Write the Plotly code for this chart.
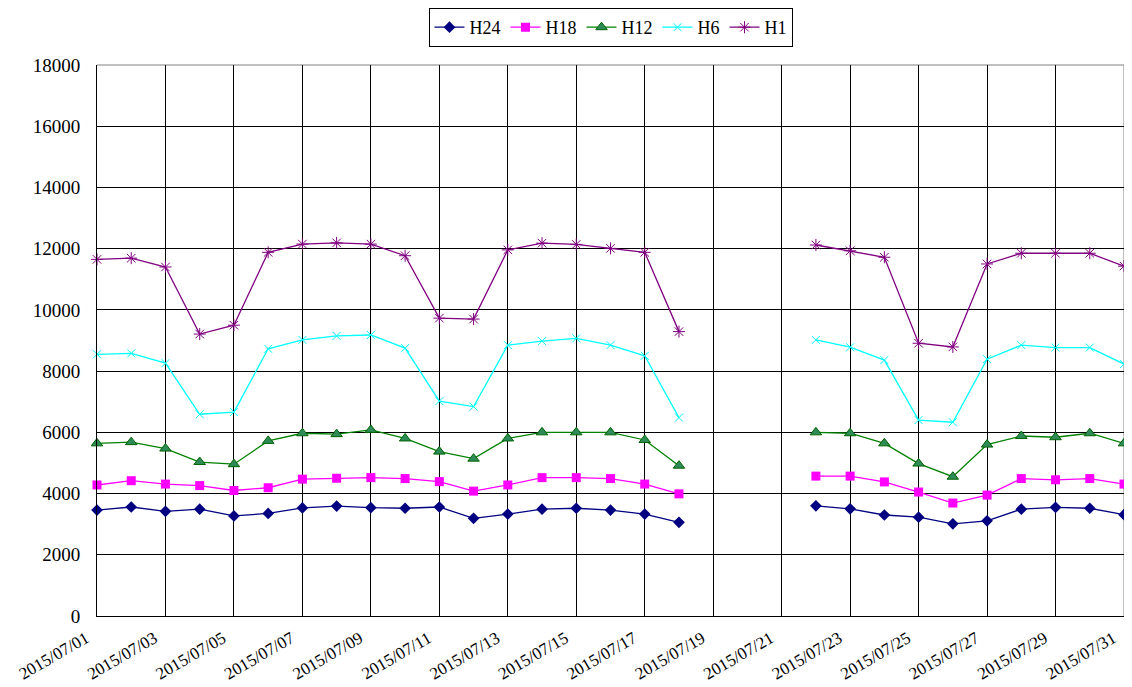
import plotly.graph_objects as go

dates = ["2015-07-%02d" % d for d in range(1, 32)]

h24 = [3460, 3560, 3420, 3490, 3270, 3350, 3530, 3590, 3540, 3520,
       3560, 3190, 3330, 3490, 3520, 3460, 3330, 3060, None, None, None,
       3600, 3500, 3300, 3230, 3010, 3110, 3490, 3550, 3520, 3310]
h18 = [4280, 4420, 4310, 4260, 4100, 4190, 4470, 4500, 4520, 4490,
       4390, 4080, 4280, 4520, 4520, 4490, 4310, 3990, None, None, None,
       4570, 4570, 4380, 4050, 3690, 3950, 4490, 4450, 4490, 4310]
h12 = [5640, 5680, 5470, 5030, 4960, 5720, 5970, 5940, 6080, 5800,
       5370, 5140, 5800, 6000, 6000, 6000, 5750, 4910, None, None, None,
       6000, 5970, 5640, 4980, 4550, 5600, 5880, 5840, 5970, 5640]
h6 = [8550, 8580, 8260, 6590, 6660, 8730, 9020, 9150, 9180, 8750,
      7020, 6840, 8850, 8980, 9070, 8850, 8500, 6480, None, None, None,
      9020, 8780, 8360, 6400, 6330, 8390, 8850, 8770, 8770, 8230]
h1 = [11650, 11690, 11400, 9210, 9500, 11880, 12150, 12190, 12150, 11770,
      9730, 9700, 11960, 12180, 12140, 12010, 11880, 9290, None, None, None,
      12120, 11930, 11720, 8910, 8790, 11500, 11850, 11850, 11850, 11430]

series = [
    ("H24", h24, "#000080", dict(symbol="diamond", size=9, color="#000080")),
    ("H18", h18, "#FF00FF", dict(symbol="square", size=9, color="#FF00FF")),
    ("H12", h12, "#008000", dict(symbol="triangle-up", size=10, color="#2E8B57",
                                  line=dict(color="#006400", width=1))),
    ("H6", h6, "#00FFFF", dict(symbol="x-thin-open", size=8, color="#00FFFF",
                                line=dict(color="#00FFFF", width=1))),
    ("H1", h1, "#800080", dict(symbol="asterisk-open", size=10, color="#800080",
                                line=dict(color="#800080", width=1))),
]

fig = go.Figure()
for name, vals, col, mk in series:
    fig.add_trace(go.Scatter(x=dates, y=vals, name=name, mode="lines+markers",
                             line=dict(color=col, width=1.3), marker=mk,
                             connectgaps=False, cliponaxis=False))

FF = "Times New Roman, Liberation Serif, DejaVu Serif, serif"
fig.update_layout(
    width=1124, height=679,
    margin=dict(l=89, r=8, t=57, b=71),
    paper_bgcolor="white", plot_bgcolor="white",
    font=dict(family=FF, size=17, color="black"),
    showlegend=True,
    legend=dict(orientation="h", x=0.5, xanchor="center",
                y=1, yref="container", yanchor="top",
                bordercolor="black", borderwidth=1,
                font=dict(family=FF, size=18, color="black"),
                tracegroupgap=0),
    xaxis=dict(type="date", range=["2015-07-01", "2015-07-31"],
               tick0="2015-07-01", dtick=2 * 86400000, tickformat="%Y/%m/%d",
               tickangle=-30, showgrid=True, gridcolor="black", gridwidth=1,
               showline=True, linecolor="black", linewidth=1, ticks="",
               ticklabelshift=-11, ticklabelstandoff=5,
               ticklabeloverflow="allow",
               tickfont=dict(family=FF, size=17, color="black"),
               zeroline=False, automargin=False),
    yaxis=dict(range=[0, 18000], dtick=2000, tickformat="d", showgrid=True,
               gridcolor="black", gridwidth=1, showline=True, linecolor="black",
               linewidth=1, ticks="", zeroline=False, ticklabelstandoff=12,
               tickfont=dict(family=FF, size=19, color="black"),
               automargin=False),
    shapes=[
        dict(type="line", xref="paper", yref="paper", x0=0, x1=1, y0=1, y1=1,
             line=dict(color="#808080", width=1), layer="below"),
        dict(type="line", xref="paper", yref="paper", x0=1, x1=1, y0=0, y1=1,
             line=dict(color="#808080", width=1), layer="below"),
    ],
)

fig.write_html("out.html")
